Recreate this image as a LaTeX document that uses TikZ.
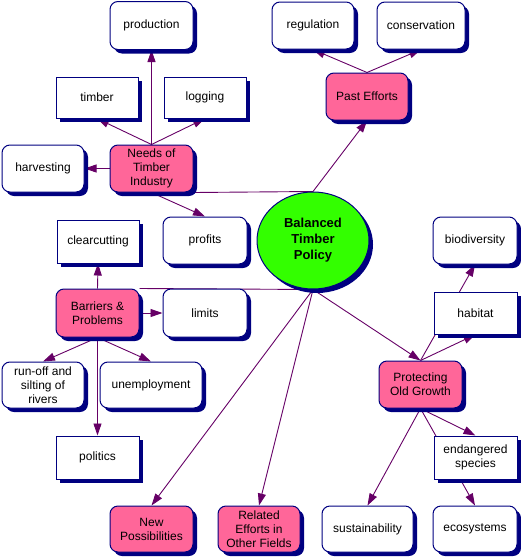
\documentclass[tikz,border=0pt]{standalone}
\usepackage{fontspec}
\setmainfont{Liberation Sans}
\usetikzlibrary{arrows.meta,shadows,backgrounds,shapes.geometric}
\definecolor{navyb}{HTML}{000080}
\definecolor{linkc}{HTML}{660066}
\definecolor{pinkf}{HTML}{FF6699}
\definecolor{greenf}{HTML}{33FF00}
\begin{document}
\begin{tikzpicture}[x=1pt,y=-1pt,
  cbox/.style={draw=navyb, line width=1pt, fill=white, align=center, inner sep=0pt,
     font=\fontsize{12}{14}\selectfont,
     drop shadow={shadow xshift=4pt,shadow yshift=-4pt,fill=navyb,opacity=1}},
  rbox/.style={cbox, rounded corners=8pt},
  sbox/.style={cbox},
  pbox/.style={rbox, fill=pinkf},
  wh/.style 2 args={minimum width=#1pt, minimum height=#2pt},
  link/.style={draw=linkc, line width=0.9pt},
  arr/.style={link, -{Triangle[length=12pt,width=8pt]}}
]
\useasboundingbox (0,0) rectangle (521,557);

% nodes
\node[rbox, wh={83}{48}] (production) at (151.5,25.5) {production};
\node[sbox, wh={82}{41}] (timber) at (97,97.5) {timber};
\node[sbox, wh={82}{41}] (logging) at (205,97.5) {logging};
\node[rbox, wh={82}{47}] (harvesting) at (43,168.5) {harvesting};
\node[pbox, wh={83}{47}] (needs) at (151.5,168.5) {Needs of\\Timber\\Industry};
\node[rbox, wh={82}{47}] (regulation) at (313,25.5) {regulation};
\node[rbox, wh={88}{47}] (conservation) at (421,25.5) {conservation};
\node[pbox, wh={82}{47}] (past) at (367,96.5) {Past Efforts};
\node[ellipse, draw=navyb, line width=1pt, fill=greenf, inner sep=0pt,
      minimum width=112pt, minimum height=97pt, align=center,
      font=\fontsize{13}{16}\selectfont\bfseries,
      drop shadow={shadow xshift=4pt,shadow yshift=-4pt,fill=navyb,opacity=1}]
      (balanced) at (313,240.5) {Balanced\\Timber\\Policy};
\node[sbox, wh={82}{43}] (clearcutting) at (98,241.5) {clearcutting};
\node[rbox, wh={84}{47}] (profits) at (205,240.5) {profits};
\node[pbox, wh={83}{48}] (barriers) at (97.5,313) {Barriers \&\\Problems};
\node[rbox, wh={84}{48}] (limits) at (205,313) {limits};
\node[rbox, wh={82}{46}] (runoff) at (43,385) {run-off and\\silting of\\rivers};
\node[rbox, wh={102}{46}] (unemployment) at (151,385) {unemployment};
\node[sbox, wh={83}{43}] (politics) at (97.5,457.5) {politics};
\node[rbox, wh={84}{47}] (biodiversity) at (475,240.5) {biodiversity};
\node[sbox, wh={83}{42}] (habitat) at (475.5,313) {habitat};
\node[pbox, wh={83}{47}] (protecting) at (420.5,384.5) {Protecting\\Old Growth};
\node[sbox, wh={83}{43}] (endangered) at (475.5,457.5) {endangered\\species};
\node[pbox, wh={83}{46}] (newposs) at (151.5,529) {New\\Possibilities};
\node[pbox, wh={82}{46}] (related) at (259,529) {Related\\Efforts in\\Other Fields};
\node[rbox, wh={91}{46}] (sustainability) at (367.5,529) {sustainability};
\node[rbox, wh={84}{46}] (ecosystems) at (475,529) {ecosystems};

% links
\begin{scope}[on background layer]
\draw[link] (balanced.north) -- (needs.south east);
\draw[link] (balanced.south) -- (barriers.north east);
\draw[arr] (balanced.north) -- (past.south);
\draw[arr] (balanced.south) -- (protecting.north);
\draw[arr] (balanced.south) -- (newposs.north);
\draw[arr] (balanced.south) -- (related.north);
\draw[arr] (needs.north) -- (production.south);
\draw[arr] (needs.north) -- (timber.south);
\draw[arr] (needs.north) -- (logging.south);
\draw[arr] (needs.west) -- (harvesting.east);
\draw[arr] (needs.south) -- (profits.north);
\draw[arr] (past.north) -- (regulation.south);
\draw[arr] (past.north) -- (conservation.south);
\draw[arr] (barriers.north) -- (clearcutting.south);
\draw[arr] (barriers.east) -- (limits.west);
\draw[arr] (barriers.south) -- (runoff.north);
\draw[arr] (barriers.south) -- (unemployment.north);
\draw[arr] (barriers.south) -- (politics.north);
\draw[arr] (protecting.north) -- (habitat.south);
\draw[arr] (protecting.north) -- (biodiversity.south);
\draw[arr] (protecting.south) -- (endangered.north);
\draw[arr] (protecting.south) -- (ecosystems.north);
\draw[arr] (protecting.south) -- (sustainability.north);
\end{scope}
\end{tikzpicture}
\end{document}
